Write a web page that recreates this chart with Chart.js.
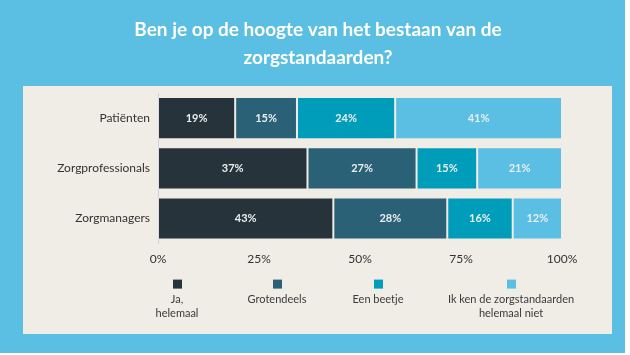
<!DOCTYPE html>
<html>
<head>
<meta charset="utf-8">
<script src="https://cdn.jsdelivr.net/npm/chart.js@4/dist/chart.umd.min.js"></script>
<style>
html,body{margin:0;padding:0;background:#ffffff;}
#wrap{width:630px;height:355px;position:relative;}
</style>
</head>
<body>
<div id="wrap"><canvas id="c" width="630" height="355"></canvas></div>
<script>
const titleLines = ['Ben je op de hoogte van het bestaan van de', 'zorgstandaarden?'];
const categories = ['Patiënten', 'Zorgprofessionals', 'Zorgmanagers'];
const seriesNames = ['Ja, helemaal', 'Grotendeels', 'Een beetje', 'Ik ken de zorgstandaarden helemaal niet'];
const legendLines = [['Ja,', 'helemaal'], ['Grotendeels'], ['Een beetje'], ['Ik ken de zorgstandaarden', 'helemaal niet']];
const jaHelemaal = [19.1, 37, 43.4];
const grotendeels = [15.3, 27, 28.2];
const eenBeetje = [24.3, 15, 16.2];
const kenNiet = [41.3, 21, 12.2];
const xTickLabels = ['0%', '25%', '50%', '75%', '100%'];
const colors = ['#26333a', '#2b6176', '#009dbb', '#5bbfe3'];

const seriesValues = [jaHelemaal, grotendeels, eenBeetje, kenNiet];

const bgPlugin = {
  id: 'bg',
  beforeDraw(chart) {
    const ctx = chart.ctx;
    ctx.save();
    ctx.fillStyle = '#5bbfe3';
    ctx.fillRect(0, 0, 625, 353);
    ctx.fillStyle = '#f0ece6';
    ctx.fillRect(23, 86, 589, 248);
    ctx.fillStyle = '#ffffff';
    ctx.font = 'bold 19px Lato';
    ctx.textAlign = 'center';
    ctx.textBaseline = 'middle';
    titleLines.forEach((line, k) => ctx.fillText(line, 318, 30 + k * 28));
    ctx.restore();
  }
};

const labelPlugin = {
  id: 'barLabels',
  afterDatasetsDraw(chart) {
    const ctx = chart.ctx;
    ctx.save();
    ctx.font = 'bold 11px Lato';
    ctx.fillStyle = '#e8eff2';
    ctx.textAlign = 'center';
    ctx.textBaseline = 'middle';
    chart.data.datasets.forEach((ds, i) => {
      const meta = chart.getDatasetMeta(i);
      meta.data.forEach((bar, j) => {
        const x = (bar.x + bar.base) / 2;
        ctx.fillText(Math.round(ds.data[j]) + '%', x, bar.y);
      });
    });
    ctx.restore();
  }
};

const legendPlugin = {
  id: 'customLegend',
  afterDraw(chart) {
    const ctx = chart.ctx;
    const area = chart.chartArea;
    ctx.save();
    ctx.font = '11px Lato';
    const centers = [177, 277, 378, 511];
    const sqTop = area.bottom + 36;
    chart.data.datasets.forEach((ds, i) => {
      const cx = centers[i];
      ctx.fillStyle = ds.backgroundColor;
      ctx.fillRect(Math.round(cx - 4.5), sqTop, 9, 9);
      ctx.fillStyle = '#3a3a3a';
      ctx.textAlign = 'center';
      ctx.textBaseline = 'middle';
      legendLines[i].forEach((line, k) => {
        ctx.fillText(line, cx, sqTop + 20 + k * 13.5);
      });
    });
    ctx.restore();
  }
};

new Chart(document.getElementById('c'), {
  type: 'bar',
  data: {
    labels: categories,
    datasets: seriesNames.map((name, i) => ({
      label: name,
      data: seriesValues[i],
      backgroundColor: colors[i],
      borderColor: 'rgba(240,236,230,0.45)',
      borderWidth: 1,
      borderSkipped: false,
      barPercentage: 0.84,
      categoryPercentage: 1.0
    }))
  },
  options: {
    indexAxis: 'y',
    responsive: false,
    animation: false,
    layout: { padding: { left: 28, right: 68, top: 93, bottom: 81 } },
    plugins: {
      legend: { display: false },
      tooltip: { enabled: false },
      title: { display: false }
    },
    scales: {
      x: {
        stacked: true,
        min: 0,
        max: 100,
        ticks: {
          stepSize: 25,
          padding: 8,
          color: '#333333',
          font: { family: 'Lato', size: 12 },
          callback: (v, idx) => xTickLabels[idx]
        },
        grid: { display: false, drawTicks: false },
        border: { display: false }
      },
      y: {
        stacked: true,
        afterFit: s => { s.width = 130; },
        ticks: {
          padding: 8,
          color: '#333333',
          font: { family: 'Lato', size: 12 }
        },
        grid: { display: false, drawTicks: false },
        border: { display: true, color: '#d6d3ce', width: 1 }
      }
    }
  },
  plugins: [bgPlugin, labelPlugin, legendPlugin]
});
</script>
</body>
</html>
